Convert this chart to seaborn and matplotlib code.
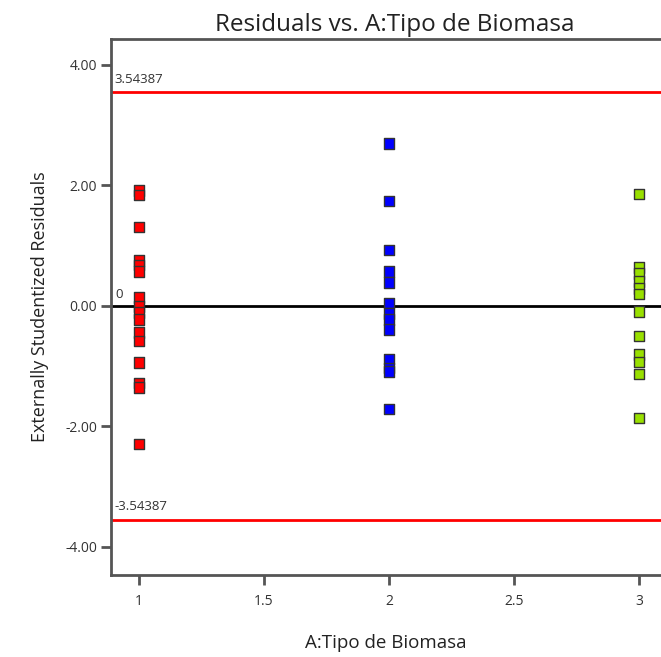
import matplotlib
matplotlib.use("Agg")
import matplotlib.pyplot as plt
import seaborn as sns
import pandas as pd

# Data
group1 = [1.91, 1.84, 1.31, 0.76, 0.68, 0.57, 0.14, -0.01, -0.11, -0.23, -0.44, -0.58, -0.94, -1.28, -1.35, -2.29]
group2 = [2.70, 1.74, 0.93, 0.57, 0.39, 0.05, -0.12, -0.23, -0.39, -0.88, -1.03, -1.09, -1.71]
group3 = [1.86, 0.64, 0.54, 0.40, 0.29, 0.20, -0.09, -0.50, -0.80, -0.93, -1.13, -1.86]
groups = [1, 2, 3]
colors = ["#ff0000", "#0000ff", "#99e000"]
limit_upper = 3.54387
limit_lower = -3.54387
yticks = [-4.0, -2.0, 0.0, 2.0, 4.0]
xticks = [1, 1.5, 2, 2.5, 3]
xtick_labels = ["1", "1.5", "2", "2.5", "3"]

df = pd.DataFrame({
    "x": [1] * len(group1) + [2] * len(group2) + [3] * len(group3),
    "y": group1 + group2 + group3,
})
df["g"] = df["x"].astype(str)

sns.set_style("white")
plt.rcParams["font.family"] = ["Open Sans", "DejaVu Sans"]

fig = plt.figure(figsize=(6.61, 6.57), dpi=100)
ax = fig.add_axes([0.168, 0.1248, 0.832, 0.8158])

ax.axhline(limit_upper, color="#ff0000", lw=2, zorder=1)
ax.axhline(limit_lower, color="#ff0000", lw=2, zorder=1)
ax.axhline(0, color="black", lw=2, zorder=1)

sns.scatterplot(data=df, x="x", y="y", hue="g",
                palette=dict(zip([str(g) for g in groups], colors)),
                marker="s", s=60, edgecolor="#333333", linewidth=1.0,
                legend=False, ax=ax, zorder=3)

ax.set_xlim(0.888, 3.088)
ax.set_ylim(-4.465, 4.43)
ax.set_xticks(xticks)
ax.set_xticklabels(xtick_labels)
ax.set_yticks(yticks)
ax.set_yticklabels([f"{v:.2f}" for v in yticks])

ax.tick_params(axis="both", direction="out", length=7, width=2, color="#555555",
               labelsize=10, labelcolor="#333333", left=True, bottom=True)
ax.tick_params(axis="y", pad=3)
ax.tick_params(axis="x", pad=7)

for side in ["left", "bottom", "top"]:
    ax.spines[side].set_color("#555555")
    ax.spines[side].set_linewidth(2)
    ax.spines[side].set_visible(True)
ax.spines["right"].set_visible(False)

ax.text(0.9, limit_upper + 0.1, "3.54387", fontsize=9.5, color="#333333", va="bottom", ha="left")
ax.text(0.9, limit_lower + 0.1, "-3.54387", fontsize=9.5, color="#333333", va="bottom", ha="left")
ax.text(0.905, 0.08, "0", fontsize=9.5, color="#333333", va="bottom", ha="left")

ax.set_title("Residuals vs. A:Tipo de Biomasa", fontsize=17.5, color="#222222", pad=6, x=0.515)
ax.set_xlabel("A:Tipo de Biomasa", fontsize=13.5, color="#222222", labelpad=18)
ax.set_ylabel("Externally Studentized Residuals", fontsize=13, color="#222222", labelpad=12)

fig.savefig("out.png", dpi=100)
